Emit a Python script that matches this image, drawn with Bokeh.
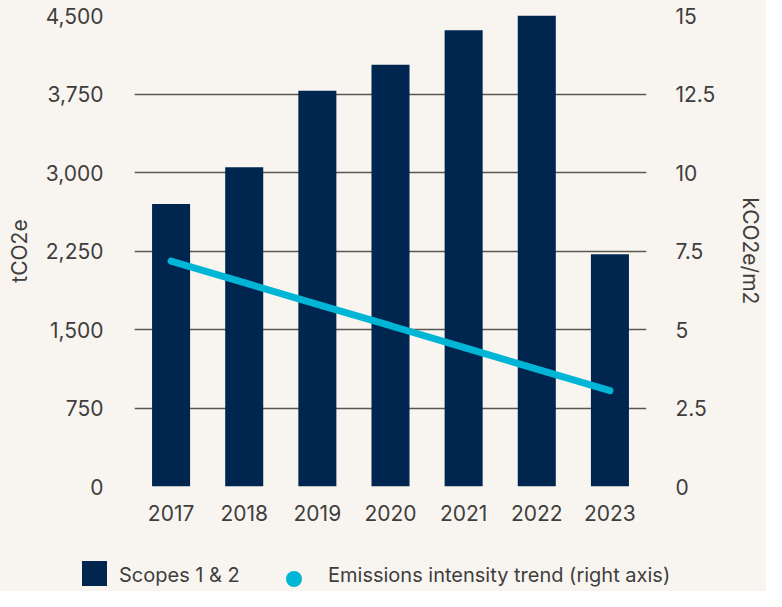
from bokeh.plotting import figure
from bokeh.layouts import column
from bokeh.models import Range1d, LinearAxis, FixedTicker, Div
from bokeh.embed import file_html
from bokeh.resources import INLINE

# ---- data ----
years = ["2017", "2018", "2019", "2020", "2021", "2022", "2023"]
scopes_1_2 = [2700, 3050, 3780, 4030, 4360, 4510, 2220]          # tCO2e (left axis)
intensity_trend = [7.18, 6.49, 5.80, 5.12, 4.43, 3.74, 3.05]     # kCO2e/m2 (right axis)

left_ticks = [0, 750, 1500, 2250, 3000, 3750, 4500]
left_tick_labels = ["0", "750", "1,500", "2,250", "3,000", "3,750", "4,500"]
right_ticks = [0, 2.5, 5, 7.5, 10, 12.5, 15]
right_tick_labels = ["0", "2.5", "5", "7.5", "10", "12.5", "15"]
legend_labels = ["Scopes 1 &amp; 2", "Emissions intensity trend (right axis)"]

# ---- style ----
BG = "#f8f5f1"
NAVY = "#002650"
CYAN = "#00b5d5"
TEXT = "#403e3c"
GRID = "#5a5652"
FONT = "Inter"

chart = figure(
    x_range=years, y_range=Range1d(0, 4500),
    width=766, height=540,
    output_backend="svg", toolbar_location=None,
    background_fill_color=BG, border_fill_color=BG,
    outline_line_color=None,
    min_border_left=134, min_border_right=117,
    min_border_top=15, min_border_bottom=54,
)
chart.extra_y_ranges = {"right": Range1d(0, 15)}

chart.vbar(x=years, top=scopes_1_2, width=0.52, fill_color=NAVY, line_color=None)
chart.line(x=years, y=intensity_trend, y_range_name="right",
           line_color=CYAN, line_width=7, line_cap="round")

# grid
chart.xgrid.grid_line_color = None
chart.ygrid.ticker = FixedTicker(ticks=left_ticks)
chart.ygrid.grid_line_color = GRID
chart.ygrid.grid_line_width = 1.6

def style_axis(ax):
    ax.axis_line_color = None
    ax.major_tick_line_color = None
    ax.minor_tick_line_color = None
    ax.major_tick_out = 0
    ax.major_tick_in = 0
    ax.major_label_text_font = FONT
    ax.major_label_text_font_size = "21px"
    ax.major_label_text_color = TEXT
    ax.axis_label_text_font = FONT
    ax.axis_label_text_font_size = "21px"
    ax.axis_label_text_font_style = "normal"
    ax.axis_label_text_color = TEXT

# left axis
yl = chart.yaxis[0]
style_axis(yl)
yl.ticker = FixedTicker(ticks=left_ticks)
yl.major_label_overrides = dict(zip(left_ticks, left_tick_labels))
yl.axis_label = "tCO2e"
yl.major_label_standoff = 31
yl.axis_label_standoff = 11

# bottom axis
xa = chart.xaxis[0]
style_axis(xa)
xa.major_label_standoff = 18

# right axis
yr = LinearAxis(y_range_name="right", axis_label="kCO2e/m2")
style_axis(yr)
yr.ticker = FixedTicker(ticks=right_ticks)
yr.major_label_overrides = dict(zip(right_ticks, right_tick_labels))
yr.major_label_standoff = 29
yr.axis_label_standoff = 20
chart.add_layout(yr, "right")

# ---- legend strip (HTML) ----
legend_html = f"""
<div style="position:relative;width:766px;height:51px;background:{BG};
            font-family:'{FONT}',sans-serif;font-size:20px;line-height:20px;color:{TEXT};">
  <span style="position:absolute;left:82px;top:21px;width:25px;height:25px;background:{NAVY};"></span>
  <span style="position:absolute;left:119px;top:25px;white-space:nowrap;">{legend_labels[0]}</span>
  <span style="position:absolute;left:286px;top:31px;width:16px;height:16px;border-radius:50%;background:{CYAN};"></span>
  <span style="position:absolute;left:328px;top:25px;white-space:nowrap;">{legend_labels[1]}</span>
</div>
"""
legend_div = Div(text=legend_html, width=766, height=51, margin=0,
                 styles={"background-color": BG})

p = column(chart, legend_div, spacing=0, styles={"background-color": BG})

open("out.html", "w").write(file_html(p, INLINE))
